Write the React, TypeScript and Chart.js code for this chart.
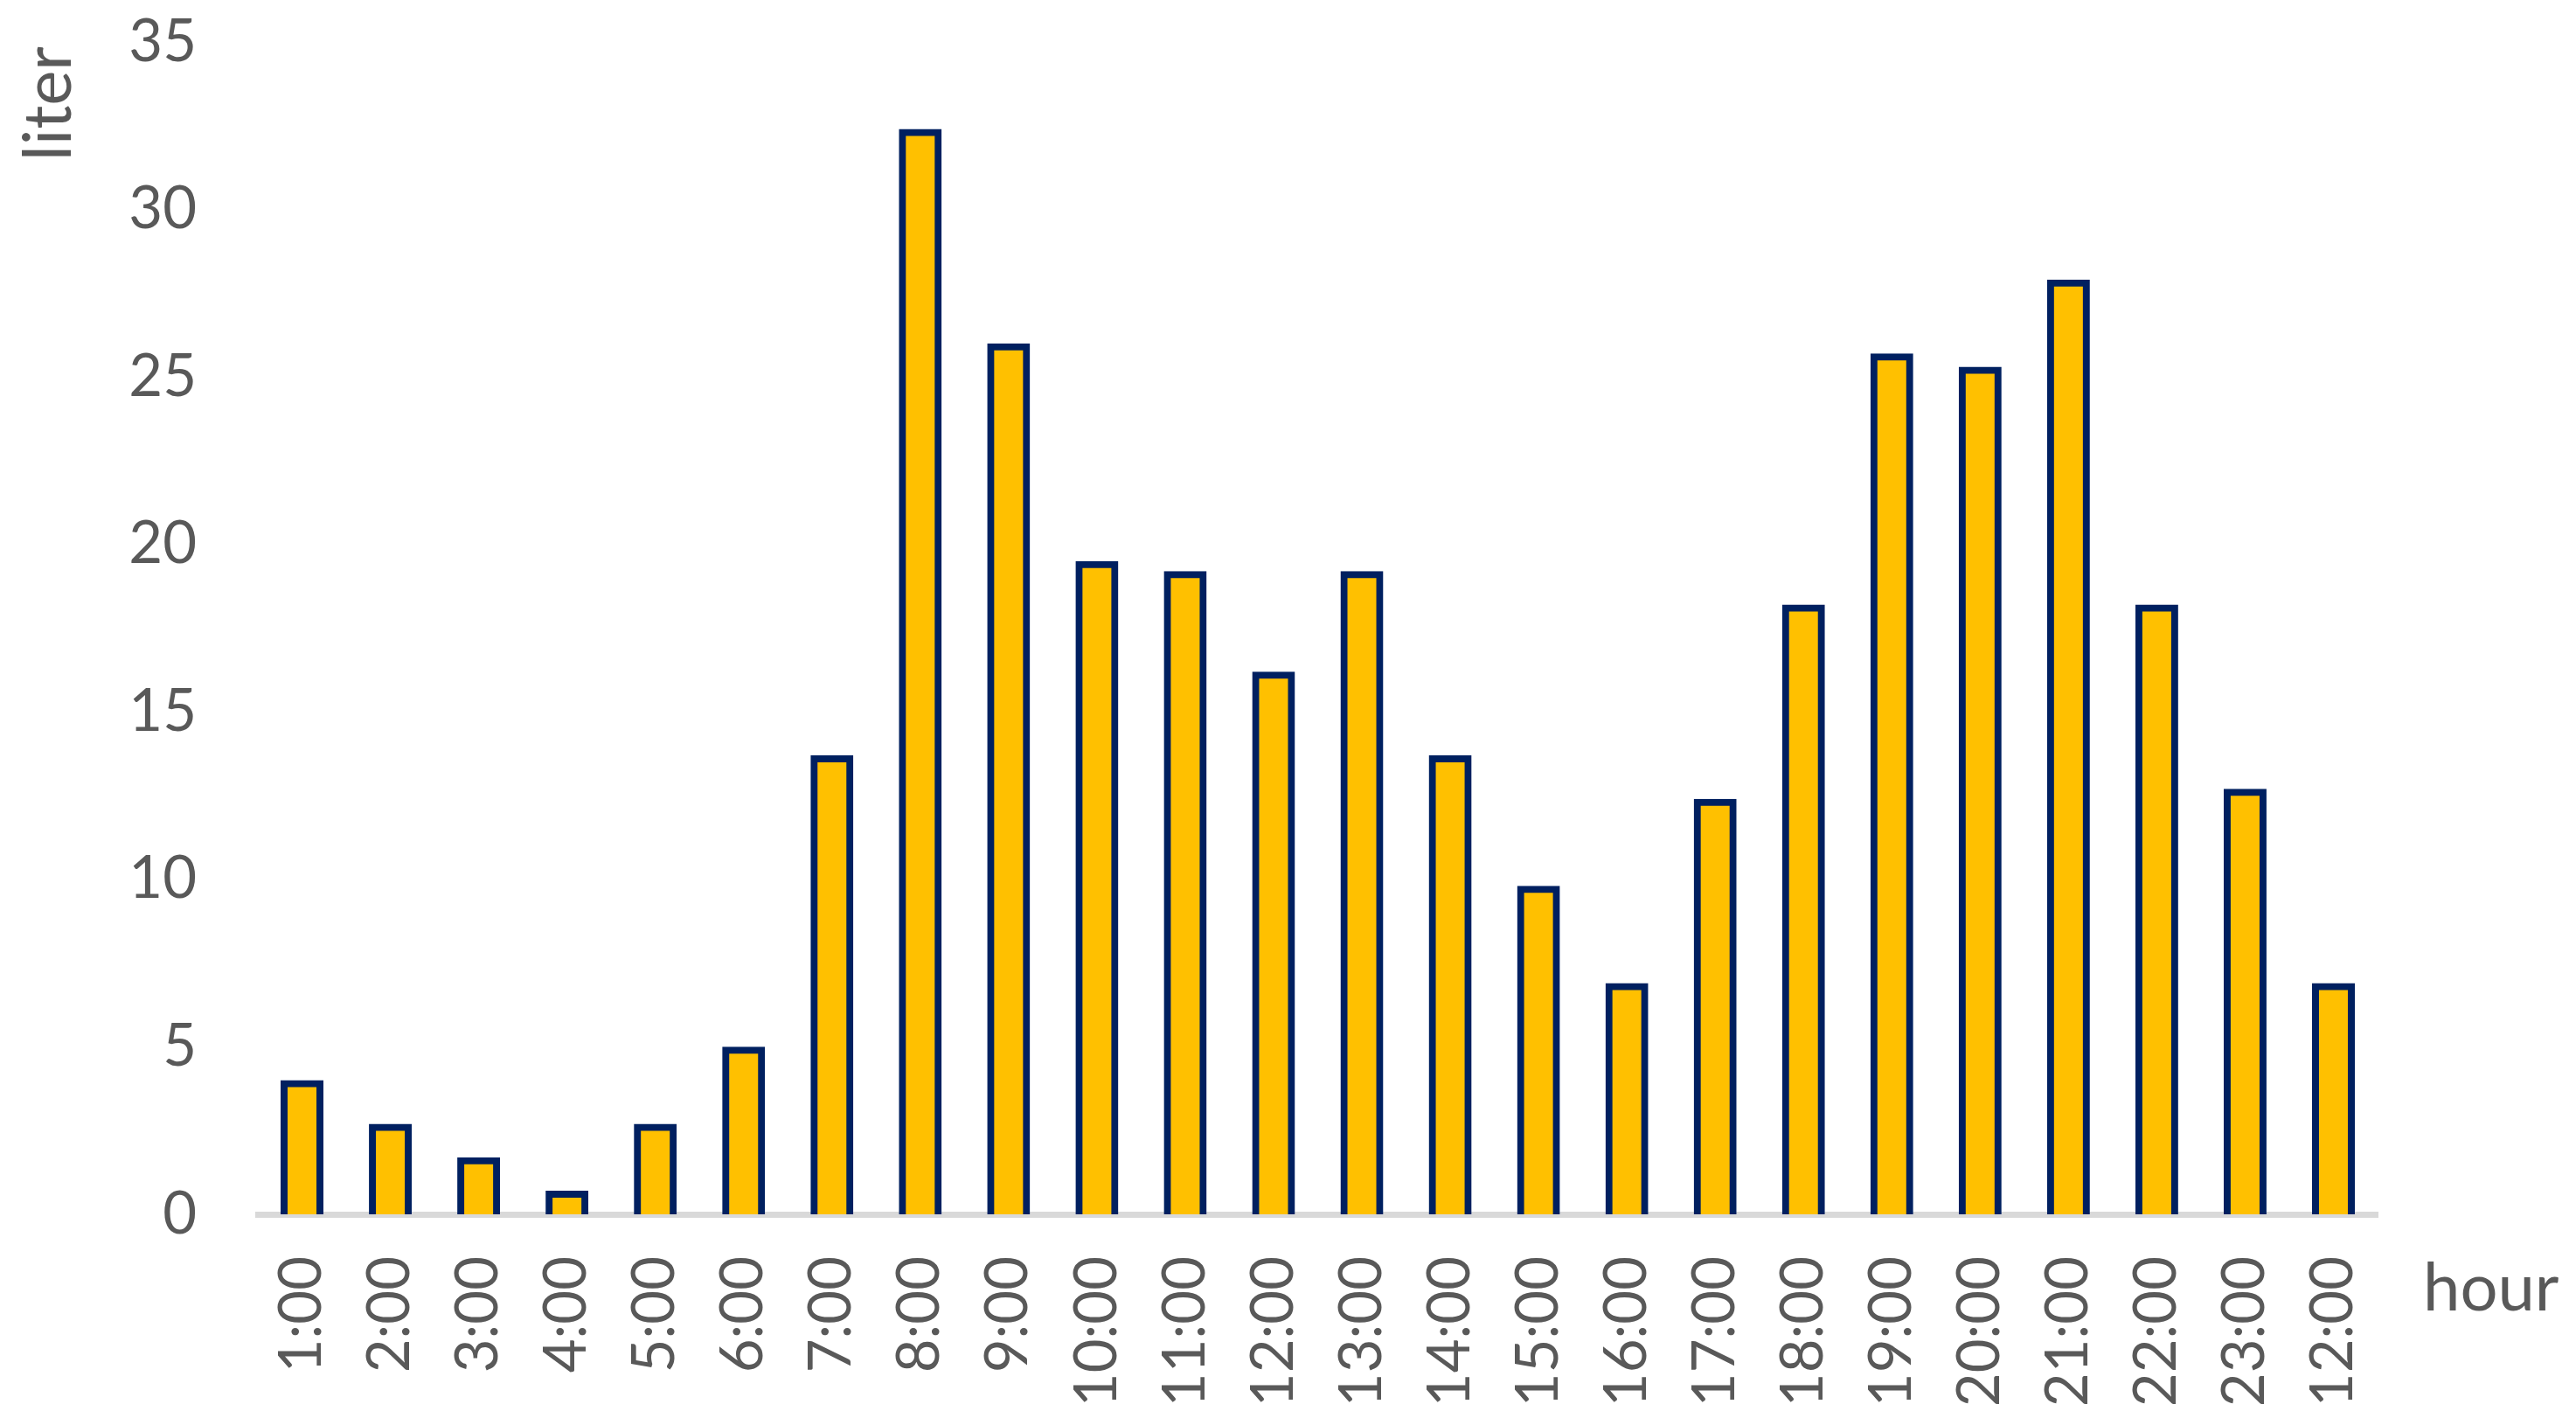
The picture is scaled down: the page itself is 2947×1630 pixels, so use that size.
import React, { useEffect, useRef } from "react";
import { Chart, registerables } from "chart.js";

Chart.register(...registerables);

const hourLabels: string[] = [
  "1:00", "2:00", "3:00", "4:00", "5:00", "6:00", "7:00", "8:00",
  "9:00", "10:00", "11:00", "12:00", "13:00", "14:00", "15:00", "16:00",
  "17:00", "18:00", "19:00", "20:00", "21:00", "22:00", "23:00", "12:00",
];

const literValues: number[] = [
  3.9, 2.6, 1.6, 0.6, 2.6, 4.9, 13.6, 32.3,
  25.9, 19.4, 19.1, 16.1, 19.1, 13.6, 9.7, 6.8,
  12.3, 18.1, 25.6, 25.2, 27.8, 18.1, 12.6, 6.8,
];

const yTickValues: number[] = [0, 5, 10, 15, 20, 25, 30, 35];

const yTitle = "liter";
const xTitle = "hour";

const W = 2947;
const H = 1630;
const TEXT = "#595959";

const titlePlugin = {
  id: "sideTitles",
  afterDraw(chart: any) {
    const ctx = chart.ctx as CanvasRenderingContext2D;
    ctx.save();
    ctx.fillStyle = TEXT;
    ctx.font = "76px Lato";
    ctx.textBaseline = "alphabetic";
    ctx.save();
    ctx.translate(81, 53);
    ctx.rotate(-Math.PI / 2);
    ctx.textAlign = "right";
    ctx.fillText(yTitle, 0, 0);
    ctx.restore();
    ctx.textAlign = "left";
    ctx.fillText(xTitle, 2772, 1499);
    ctx.restore();
  },
};

export default function App() {
  const ref = useRef<HTMLCanvasElement | null>(null);

  useEffect(() => {
    if (!ref.current) return;
    const chart = new Chart(ref.current, {
      type: "bar",
      data: {
        labels: hourLabels,
        datasets: [
          {
            data: literValues,
            backgroundColor: "#FFC000",
            borderColor: "#002060",
            borderWidth: 8,
            inflateAmount: 4,
            barPercentage: 0.406,
            categoryPercentage: 1,
          } as any,
        ],
      },
      options: {
        responsive: false,
        devicePixelRatio: 1,
        animation: false,
        layout: { padding: { top: 48, right: 227, bottom: 0, left: 0 } },
        plugins: {
          legend: { display: false },
          tooltip: { enabled: false },
          title: { display: false },
        },
        scales: {
          x: {
            z: 1,
            grid: { display: false, drawTicks: false },
            border: { display: true, color: "#D9D9D9", width: 7 },
            ticks: {
              autoSkip: false,
              maxRotation: 90,
              minRotation: 90,
              padding: 48,
              color: TEXT,
              font: { family: "Lato", size: 67 },
            },
            afterFit: (scale: any) => {
              scale.height = 241;
              scale.paddingLeft = 0;
              scale.paddingRight = 0;
            },
          },
          y: {
            min: 0,
            max: 35,
            afterBuildTicks: (scale: any) => {
              scale.ticks = yTickValues.map((v) => ({ value: v }));
            },
            grid: { display: false, drawTicks: false },
            border: { display: false },
            ticks: {
              padding: 70,
              color: TEXT,
              font: { family: "Lato", size: 67 },
            },
            afterFit: (scale: any) => {
              scale.width = 295;
              scale.paddingTop = 0;
              scale.paddingBottom = 0;
            },
          },
        },
      },
      plugins: [titlePlugin],
    });
    return () => chart.destroy();
  }, []);

  return (
    <div style={{ position: "absolute", left: 0, top: 0, width: W, height: H, background: "#fff" }}>
      <canvas ref={ref} width={W} height={H} style={{ width: W, height: H, display: "block" }} />
    </div>
  );
}
